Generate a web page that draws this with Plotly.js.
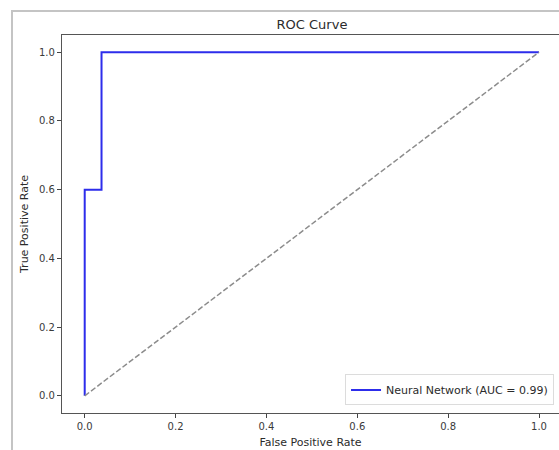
<!DOCTYPE html>
<html>
<head>
<meta charset="utf-8">
<script src="https://cdn.plot.ly/plotly-3.0.1.min.js"></script>
<style>
  html, body { margin: 0; padding: 0; background: #ffffff; overflow: hidden; width: 559px; height: 450px; }
  #frame { position: absolute; left: 11px; top: 10px; right: -20px; bottom: -20px;
           border: 2px solid #c4c4c4; box-sizing: border-box; }
  #chart { position: absolute; left: 0; top: 0; width: 559px; height: 450px; }
</style>
</head>
<body>
<div id="frame"></div>
<div id="chart"></div>
<script>
// ROC curve points (false positive rate vs true positive rate)
const fpr = [0.0, 0.0, 0.037, 0.037, 1.0];
const tpr = [0.0, 0.6, 0.6, 1.0, 1.0];
const aucValue = 0.99;
const modelName = 'Neural Network';

// chance line
const chanceX = [0, 1];
const chanceY = [0, 1];

const tickVals = [0.0, 0.2, 0.4, 0.6, 0.8, 1.0];
const tickText = ['0.0', '0.2', '0.4', '0.6', '0.8', '1.0'];

const textColor = '#2b2b2b';
const font = { family: 'DejaVu Sans, sans-serif', size: 10, color: textColor };

const traces = [
  {
    x: fpr, y: tpr, type: 'scatter', mode: 'lines',
    name: modelName + ' (AUC = ' + aucValue.toFixed(2) + ')',
    line: { color: 'rgb(45,45,235)', width: 2, shape: 'linear' }
  },
  {
    x: chanceX, y: chanceY, type: 'scatter', mode: 'lines',
    showlegend: false, hoverinfo: 'skip',
    line: { color: '#8c8c8c', width: 1.5, dash: '5.5px,2.4px' }
  }
];

const axisCommon = {
  ticks: 'outside',
  ticklen: 4,
  tickwidth: 1,
  tickcolor: '#444',
  showline: true,
  linecolor: '#555',
  linewidth: 1.2,
  showgrid: false,
  zeroline: false,
  tickvals: tickVals,
  ticktext: tickText,
  tickfont: { family: 'DejaVu Sans, sans-serif', size: 10, color: '#3a3a3a' },
  fixedrange: true
};

const layout = {
  width: 559,
  height: 450,
  margin: { l: 62, r: 0, t: 35, b: 37 },
  paper_bgcolor: 'rgba(0,0,0,0)',
  plot_bgcolor: 'rgba(0,0,0,0)',
  font: font,
  title: {
    text: 'ROC Curve',
    font: { family: 'DejaVu Sans, sans-serif', size: 13, color: textColor },
    x: 0.503, xref: 'paper', xanchor: 'center',
    y: 1, yref: 'container', yanchor: 'top', pad: { t: 20 }
  },
  xaxis: Object.assign({}, axisCommon, {
    // the figure is cropped just short of the right spine
    range: [-0.05, 1.044],
    mirror: true,
    title: { text: 'False Positive Rate', standoff: 7,
             font: { family: 'DejaVu Sans, sans-serif', size: 11, color: textColor } }
  }),
  yaxis: Object.assign({}, axisCommon, {
    range: [-0.05, 1.05],
    mirror: false,
    title: { text: 'True Positive Rate', standoff: 8,
             font: { family: 'DejaVu Sans, sans-serif', size: 11, color: textColor } }
  }),
  showlegend: true,
  legend: {
    x: 0.99, y: 0.02, xanchor: 'right', yanchor: 'bottom',
    bgcolor: 'rgba(255,255,255,0.8)',
    bordercolor: '#dcdcdc', borderwidth: 1,
    font: { family: 'DejaVu Sans, sans-serif', size: 11, color: textColor },
    itemwidth: 30,
    tracegroupgap: 0
  }
};

Plotly.newPlot('chart', traces, layout, { displayModeBar: false, staticPlot: true });
</script>
</body>
</html>
